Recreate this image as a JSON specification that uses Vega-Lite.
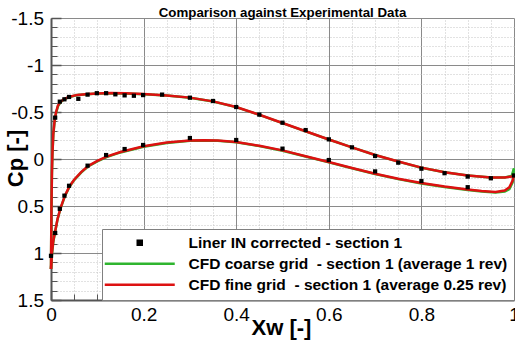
{
  "$schema": "https://vega.github.io/schema/vega-lite/v6.json",
  "width": 463,
  "height": 282,
  "autosize": {"type": "none"},
  "padding": {"left": 51, "top": 18, "right": 1, "bottom": 47},
  "background": "white",
  "config": {"font": "Liberation Sans", "view": {"stroke": null}},
  "title": {"text": "Comparison against Experimental Data", "fontSize": 13.3, "fontWeight": "bold", "font": "Liberation Sans", "color": "black", "anchor": "middle", "frame": "group", "baseline": "bottom", "offset": -24},
  "datasets": {
    "exp": [
      {"series": "Liner IN corrected - section 1", "x": 0.009, "cp": -0.44},
      {"series": "Liner IN corrected - section 1", "x": 0.019, "cp": -0.61},
      {"series": "Liner IN corrected - section 1", "x": 0.029, "cp": -0.635},
      {"series": "Liner IN corrected - section 1", "x": 0.039, "cp": -0.66},
      {"series": "Liner IN corrected - section 1", "x": 0.059, "cp": -0.64},
      {"series": "Liner IN corrected - section 1", "x": 0.079, "cp": -0.685},
      {"series": "Liner IN corrected - section 1", "x": 0.099, "cp": -0.7},
      {"series": "Liner IN corrected - section 1", "x": 0.119, "cp": -0.7},
      {"series": "Liner IN corrected - section 1", "x": 0.139, "cp": -0.688},
      {"series": "Liner IN corrected - section 1", "x": 0.159, "cp": -0.677},
      {"series": "Liner IN corrected - section 1", "x": 0.179, "cp": -0.673},
      {"series": "Liner IN corrected - section 1", "x": 0.199, "cp": -0.68},
      {"series": "Liner IN corrected - section 1", "x": 0.24, "cp": -0.685},
      {"series": "Liner IN corrected - section 1", "x": 0.3, "cp": -0.652},
      {"series": "Liner IN corrected - section 1", "x": 0.35, "cp": -0.617},
      {"series": "Liner IN corrected - section 1", "x": 0.4, "cp": -0.553},
      {"series": "Liner IN corrected - section 1", "x": 0.45, "cp": -0.472},
      {"series": "Liner IN corrected - section 1", "x": 0.5, "cp": -0.386},
      {"series": "Liner IN corrected - section 1", "x": 0.55, "cp": -0.308},
      {"series": "Liner IN corrected - section 1", "x": 0.6, "cp": -0.209},
      {"series": "Liner IN corrected - section 1", "x": 0.65, "cp": -0.124},
      {"series": "Liner IN corrected - section 1", "x": 0.7, "cp": -0.032},
      {"series": "Liner IN corrected - section 1", "x": 0.75, "cp": 0.039},
      {"series": "Liner IN corrected - section 1", "x": 0.8, "cp": 0.103},
      {"series": "Liner IN corrected - section 1", "x": 0.85, "cp": 0.151},
      {"series": "Liner IN corrected - section 1", "x": 0.9, "cp": 0.187},
      {"series": "Liner IN corrected - section 1", "x": 0.95, "cp": 0.205},
      {"series": "Liner IN corrected - section 1", "x": 1.0, "cp": 0.175},
      {"series": "Liner IN corrected - section 1", "x": 0.0, "cp": 1.03},
      {"series": "Liner IN corrected - section 1", "x": 0.009, "cp": 0.787},
      {"series": "Liner IN corrected - section 1", "x": 0.019, "cp": 0.53},
      {"series": "Liner IN corrected - section 1", "x": 0.029, "cp": 0.39},
      {"series": "Liner IN corrected - section 1", "x": 0.039, "cp": 0.285},
      {"series": "Liner IN corrected - section 1", "x": 0.079, "cp": 0.071},
      {"series": "Liner IN corrected - section 1", "x": 0.119, "cp": -0.042},
      {"series": "Liner IN corrected - section 1", "x": 0.159, "cp": -0.106},
      {"series": "Liner IN corrected - section 1", "x": 0.199, "cp": -0.149},
      {"series": "Liner IN corrected - section 1", "x": 0.3, "cp": -0.223},
      {"series": "Liner IN corrected - section 1", "x": 0.4, "cp": -0.202},
      {"series": "Liner IN corrected - section 1", "x": 0.5, "cp": -0.11},
      {"series": "Liner IN corrected - section 1", "x": 0.6, "cp": 0.011},
      {"series": "Liner IN corrected - section 1", "x": 0.7, "cp": 0.132},
      {"series": "Liner IN corrected - section 1", "x": 0.8, "cp": 0.234},
      {"series": "Liner IN corrected - section 1", "x": 0.9, "cp": 0.3}
    ],
    "coarse": [
      {"series": "CFD coarse grid\u00a0 - section 1 (average 1 rev)", "surface": "upper", "x": 0.0, "cp": 1.17},
      {"series": "CFD coarse grid\u00a0 - section 1 (average 1 rev)", "surface": "upper", "x": 0.001, "cp": 0.52},
      {"series": "CFD coarse grid\u00a0 - section 1 (average 1 rev)", "surface": "upper", "x": 0.002, "cp": 0.16},
      {"series": "CFD coarse grid\u00a0 - section 1 (average 1 rev)", "surface": "upper", "x": 0.003, "cp": -0.04},
      {"series": "CFD coarse grid\u00a0 - section 1 (average 1 rev)", "surface": "upper", "x": 0.005, "cp": -0.26},
      {"series": "CFD coarse grid\u00a0 - section 1 (average 1 rev)", "surface": "upper", "x": 0.008, "cp": -0.41},
      {"series": "CFD coarse grid\u00a0 - section 1 (average 1 rev)", "surface": "upper", "x": 0.011, "cp": -0.49},
      {"series": "CFD coarse grid\u00a0 - section 1 (average 1 rev)", "surface": "upper", "x": 0.015, "cp": -0.56},
      {"series": "CFD coarse grid\u00a0 - section 1 (average 1 rev)", "surface": "upper", "x": 0.02, "cp": -0.6},
      {"series": "CFD coarse grid\u00a0 - section 1 (average 1 rev)", "surface": "upper", "x": 0.028, "cp": -0.635},
      {"series": "CFD coarse grid\u00a0 - section 1 (average 1 rev)", "surface": "upper", "x": 0.04, "cp": -0.66},
      {"series": "CFD coarse grid\u00a0 - section 1 (average 1 rev)", "surface": "upper", "x": 0.057, "cp": -0.68},
      {"series": "CFD coarse grid\u00a0 - section 1 (average 1 rev)", "surface": "upper", "x": 0.08, "cp": -0.69},
      {"series": "CFD coarse grid\u00a0 - section 1 (average 1 rev)", "surface": "upper", "x": 0.1, "cp": -0.697},
      {"series": "CFD coarse grid\u00a0 - section 1 (average 1 rev)", "surface": "upper", "x": 0.13, "cp": -0.7},
      {"series": "CFD coarse grid\u00a0 - section 1 (average 1 rev)", "surface": "upper", "x": 0.16, "cp": -0.698},
      {"series": "CFD coarse grid\u00a0 - section 1 (average 1 rev)", "surface": "upper", "x": 0.2, "cp": -0.69},
      {"series": "CFD coarse grid\u00a0 - section 1 (average 1 rev)", "surface": "upper", "x": 0.25, "cp": -0.675},
      {"series": "CFD coarse grid\u00a0 - section 1 (average 1 rev)", "surface": "upper", "x": 0.3, "cp": -0.652},
      {"series": "CFD coarse grid\u00a0 - section 1 (average 1 rev)", "surface": "upper", "x": 0.35, "cp": -0.612},
      {"series": "CFD coarse grid\u00a0 - section 1 (average 1 rev)", "surface": "upper", "x": 0.4, "cp": -0.552},
      {"series": "CFD coarse grid\u00a0 - section 1 (average 1 rev)", "surface": "upper", "x": 0.45, "cp": -0.47},
      {"series": "CFD coarse grid\u00a0 - section 1 (average 1 rev)", "surface": "upper", "x": 0.5, "cp": -0.382},
      {"series": "CFD coarse grid\u00a0 - section 1 (average 1 rev)", "surface": "upper", "x": 0.55, "cp": -0.294},
      {"series": "CFD coarse grid\u00a0 - section 1 (average 1 rev)", "surface": "upper", "x": 0.6, "cp": -0.207},
      {"series": "CFD coarse grid\u00a0 - section 1 (average 1 rev)", "surface": "upper", "x": 0.65, "cp": -0.123},
      {"series": "CFD coarse grid\u00a0 - section 1 (average 1 rev)", "surface": "upper", "x": 0.7, "cp": -0.042},
      {"series": "CFD coarse grid\u00a0 - section 1 (average 1 rev)", "surface": "upper", "x": 0.75, "cp": 0.028},
      {"series": "CFD coarse grid\u00a0 - section 1 (average 1 rev)", "surface": "upper", "x": 0.8, "cp": 0.093},
      {"series": "CFD coarse grid\u00a0 - section 1 (average 1 rev)", "surface": "upper", "x": 0.85, "cp": 0.142},
      {"series": "CFD coarse grid\u00a0 - section 1 (average 1 rev)", "surface": "upper", "x": 0.9, "cp": 0.176},
      {"series": "CFD coarse grid\u00a0 - section 1 (average 1 rev)", "surface": "upper", "x": 0.95, "cp": 0.197},
      {"series": "CFD coarse grid\u00a0 - section 1 (average 1 rev)", "surface": "upper", "x": 0.98, "cp": 0.196},
      {"series": "CFD coarse grid\u00a0 - section 1 (average 1 rev)", "surface": "upper", "x": 0.995, "cp": 0.18},
      {"series": "CFD coarse grid\u00a0 - section 1 (average 1 rev)", "surface": "upper", "x": 1.0, "cp": 0.1},
      {"series": "CFD coarse grid\u00a0 - section 1 (average 1 rev)", "surface": "lower", "x": 0.0, "cp": 1.17},
      {"series": "CFD coarse grid\u00a0 - section 1 (average 1 rev)", "surface": "lower", "x": 0.002, "cp": 1.02},
      {"series": "CFD coarse grid\u00a0 - section 1 (average 1 rev)", "surface": "lower", "x": 0.005, "cp": 0.88},
      {"series": "CFD coarse grid\u00a0 - section 1 (average 1 rev)", "surface": "lower", "x": 0.009, "cp": 0.775},
      {"series": "CFD coarse grid\u00a0 - section 1 (average 1 rev)", "surface": "lower", "x": 0.014, "cp": 0.645},
      {"series": "CFD coarse grid\u00a0 - section 1 (average 1 rev)", "surface": "lower", "x": 0.02, "cp": 0.535},
      {"series": "CFD coarse grid\u00a0 - section 1 (average 1 rev)", "surface": "lower", "x": 0.03, "cp": 0.395},
      {"series": "CFD coarse grid\u00a0 - section 1 (average 1 rev)", "surface": "lower", "x": 0.04, "cp": 0.295},
      {"series": "CFD coarse grid\u00a0 - section 1 (average 1 rev)", "surface": "lower", "x": 0.05, "cp": 0.225},
      {"series": "CFD coarse grid\u00a0 - section 1 (average 1 rev)", "surface": "lower", "x": 0.065, "cp": 0.145},
      {"series": "CFD coarse grid\u00a0 - section 1 (average 1 rev)", "surface": "lower", "x": 0.08, "cp": 0.08},
      {"series": "CFD coarse grid\u00a0 - section 1 (average 1 rev)", "surface": "lower", "x": 0.1, "cp": 0.025},
      {"series": "CFD coarse grid\u00a0 - section 1 (average 1 rev)", "surface": "lower", "x": 0.12, "cp": -0.02},
      {"series": "CFD coarse grid\u00a0 - section 1 (average 1 rev)", "surface": "lower", "x": 0.15, "cp": -0.07},
      {"series": "CFD coarse grid\u00a0 - section 1 (average 1 rev)", "surface": "lower", "x": 0.2, "cp": -0.13},
      {"series": "CFD coarse grid\u00a0 - section 1 (average 1 rev)", "surface": "lower", "x": 0.25, "cp": -0.171},
      {"series": "CFD coarse grid\u00a0 - section 1 (average 1 rev)", "surface": "lower", "x": 0.3, "cp": -0.193},
      {"series": "CFD coarse grid\u00a0 - section 1 (average 1 rev)", "surface": "lower", "x": 0.33, "cp": -0.197},
      {"series": "CFD coarse grid\u00a0 - section 1 (average 1 rev)", "surface": "lower", "x": 0.36, "cp": -0.194},
      {"series": "CFD coarse grid\u00a0 - section 1 (average 1 rev)", "surface": "lower", "x": 0.4, "cp": -0.177},
      {"series": "CFD coarse grid\u00a0 - section 1 (average 1 rev)", "surface": "lower", "x": 0.45, "cp": -0.137},
      {"series": "CFD coarse grid\u00a0 - section 1 (average 1 rev)", "surface": "lower", "x": 0.5, "cp": -0.088},
      {"series": "CFD coarse grid\u00a0 - section 1 (average 1 rev)", "surface": "lower", "x": 0.55, "cp": -0.026},
      {"series": "CFD coarse grid\u00a0 - section 1 (average 1 rev)", "surface": "lower", "x": 0.6, "cp": 0.036},
      {"series": "CFD coarse grid\u00a0 - section 1 (average 1 rev)", "surface": "lower", "x": 0.65, "cp": 0.099},
      {"series": "CFD coarse grid\u00a0 - section 1 (average 1 rev)", "surface": "lower", "x": 0.7, "cp": 0.16},
      {"series": "CFD coarse grid\u00a0 - section 1 (average 1 rev)", "surface": "lower", "x": 0.75, "cp": 0.214},
      {"series": "CFD coarse grid\u00a0 - section 1 (average 1 rev)", "surface": "lower", "x": 0.8, "cp": 0.26},
      {"series": "CFD coarse grid\u00a0 - section 1 (average 1 rev)", "surface": "lower", "x": 0.85, "cp": 0.298},
      {"series": "CFD coarse grid\u00a0 - section 1 (average 1 rev)", "surface": "lower", "x": 0.9, "cp": 0.33},
      {"series": "CFD coarse grid\u00a0 - section 1 (average 1 rev)", "surface": "lower", "x": 0.93, "cp": 0.346},
      {"series": "CFD coarse grid\u00a0 - section 1 (average 1 rev)", "surface": "lower", "x": 0.96, "cp": 0.357},
      {"series": "CFD coarse grid\u00a0 - section 1 (average 1 rev)", "surface": "lower", "x": 0.98, "cp": 0.347},
      {"series": "CFD coarse grid\u00a0 - section 1 (average 1 rev)", "surface": "lower", "x": 0.99, "cp": 0.32},
      {"series": "CFD coarse grid\u00a0 - section 1 (average 1 rev)", "surface": "lower", "x": 0.997, "cp": 0.25},
      {"series": "CFD coarse grid\u00a0 - section 1 (average 1 rev)", "surface": "lower", "x": 1.0, "cp": 0.1}
    ],
    "fine": [
      {"series": "CFD fine grid\u00a0 - section 1 (average 0.25 rev)", "surface": "upper", "x": 0.0, "cp": 1.17},
      {"series": "CFD fine grid\u00a0 - section 1 (average 0.25 rev)", "surface": "upper", "x": 0.001, "cp": 0.5},
      {"series": "CFD fine grid\u00a0 - section 1 (average 0.25 rev)", "surface": "upper", "x": 0.002, "cp": 0.15},
      {"series": "CFD fine grid\u00a0 - section 1 (average 0.25 rev)", "surface": "upper", "x": 0.003, "cp": -0.05},
      {"series": "CFD fine grid\u00a0 - section 1 (average 0.25 rev)", "surface": "upper", "x": 0.005, "cp": -0.27},
      {"series": "CFD fine grid\u00a0 - section 1 (average 0.25 rev)", "surface": "upper", "x": 0.008, "cp": -0.42},
      {"series": "CFD fine grid\u00a0 - section 1 (average 0.25 rev)", "surface": "upper", "x": 0.011, "cp": -0.5},
      {"series": "CFD fine grid\u00a0 - section 1 (average 0.25 rev)", "surface": "upper", "x": 0.015, "cp": -0.57},
      {"series": "CFD fine grid\u00a0 - section 1 (average 0.25 rev)", "surface": "upper", "x": 0.02, "cp": -0.605},
      {"series": "CFD fine grid\u00a0 - section 1 (average 0.25 rev)", "surface": "upper", "x": 0.028, "cp": -0.638},
      {"series": "CFD fine grid\u00a0 - section 1 (average 0.25 rev)", "surface": "upper", "x": 0.04, "cp": -0.662},
      {"series": "CFD fine grid\u00a0 - section 1 (average 0.25 rev)", "surface": "upper", "x": 0.057, "cp": -0.682},
      {"series": "CFD fine grid\u00a0 - section 1 (average 0.25 rev)", "surface": "upper", "x": 0.08, "cp": -0.692},
      {"series": "CFD fine grid\u00a0 - section 1 (average 0.25 rev)", "surface": "upper", "x": 0.1, "cp": -0.698},
      {"series": "CFD fine grid\u00a0 - section 1 (average 0.25 rev)", "surface": "upper", "x": 0.13, "cp": -0.701},
      {"series": "CFD fine grid\u00a0 - section 1 (average 0.25 rev)", "surface": "upper", "x": 0.16, "cp": -0.699},
      {"series": "CFD fine grid\u00a0 - section 1 (average 0.25 rev)", "surface": "upper", "x": 0.2, "cp": -0.691},
      {"series": "CFD fine grid\u00a0 - section 1 (average 0.25 rev)", "surface": "upper", "x": 0.25, "cp": -0.676},
      {"series": "CFD fine grid\u00a0 - section 1 (average 0.25 rev)", "surface": "upper", "x": 0.3, "cp": -0.653},
      {"series": "CFD fine grid\u00a0 - section 1 (average 0.25 rev)", "surface": "upper", "x": 0.35, "cp": -0.613},
      {"series": "CFD fine grid\u00a0 - section 1 (average 0.25 rev)", "surface": "upper", "x": 0.4, "cp": -0.553},
      {"series": "CFD fine grid\u00a0 - section 1 (average 0.25 rev)", "surface": "upper", "x": 0.45, "cp": -0.471},
      {"series": "CFD fine grid\u00a0 - section 1 (average 0.25 rev)", "surface": "upper", "x": 0.5, "cp": -0.383},
      {"series": "CFD fine grid\u00a0 - section 1 (average 0.25 rev)", "surface": "upper", "x": 0.55, "cp": -0.295},
      {"series": "CFD fine grid\u00a0 - section 1 (average 0.25 rev)", "surface": "upper", "x": 0.6, "cp": -0.208},
      {"series": "CFD fine grid\u00a0 - section 1 (average 0.25 rev)", "surface": "upper", "x": 0.65, "cp": -0.124},
      {"series": "CFD fine grid\u00a0 - section 1 (average 0.25 rev)", "surface": "upper", "x": 0.7, "cp": -0.043},
      {"series": "CFD fine grid\u00a0 - section 1 (average 0.25 rev)", "surface": "upper", "x": 0.75, "cp": 0.027},
      {"series": "CFD fine grid\u00a0 - section 1 (average 0.25 rev)", "surface": "upper", "x": 0.8, "cp": 0.092},
      {"series": "CFD fine grid\u00a0 - section 1 (average 0.25 rev)", "surface": "upper", "x": 0.85, "cp": 0.141},
      {"series": "CFD fine grid\u00a0 - section 1 (average 0.25 rev)", "surface": "upper", "x": 0.9, "cp": 0.175},
      {"series": "CFD fine grid\u00a0 - section 1 (average 0.25 rev)", "surface": "upper", "x": 0.95, "cp": 0.196},
      {"series": "CFD fine grid\u00a0 - section 1 (average 0.25 rev)", "surface": "upper", "x": 0.98, "cp": 0.196},
      {"series": "CFD fine grid\u00a0 - section 1 (average 0.25 rev)", "surface": "upper", "x": 0.995, "cp": 0.186},
      {"series": "CFD fine grid\u00a0 - section 1 (average 0.25 rev)", "surface": "upper", "x": 1.0, "cp": 0.17},
      {"series": "CFD fine grid\u00a0 - section 1 (average 0.25 rev)", "surface": "lower", "x": 0.0, "cp": 1.17},
      {"series": "CFD fine grid\u00a0 - section 1 (average 0.25 rev)", "surface": "lower", "x": 0.002, "cp": 1.0},
      {"series": "CFD fine grid\u00a0 - section 1 (average 0.25 rev)", "surface": "lower", "x": 0.005, "cp": 0.87},
      {"series": "CFD fine grid\u00a0 - section 1 (average 0.25 rev)", "surface": "lower", "x": 0.009, "cp": 0.77},
      {"series": "CFD fine grid\u00a0 - section 1 (average 0.25 rev)", "surface": "lower", "x": 0.014, "cp": 0.64},
      {"series": "CFD fine grid\u00a0 - section 1 (average 0.25 rev)", "surface": "lower", "x": 0.02, "cp": 0.53},
      {"series": "CFD fine grid\u00a0 - section 1 (average 0.25 rev)", "surface": "lower", "x": 0.03, "cp": 0.39},
      {"series": "CFD fine grid\u00a0 - section 1 (average 0.25 rev)", "surface": "lower", "x": 0.04, "cp": 0.29},
      {"series": "CFD fine grid\u00a0 - section 1 (average 0.25 rev)", "surface": "lower", "x": 0.05, "cp": 0.22},
      {"series": "CFD fine grid\u00a0 - section 1 (average 0.25 rev)", "surface": "lower", "x": 0.065, "cp": 0.14},
      {"series": "CFD fine grid\u00a0 - section 1 (average 0.25 rev)", "surface": "lower", "x": 0.08, "cp": 0.075},
      {"series": "CFD fine grid\u00a0 - section 1 (average 0.25 rev)", "surface": "lower", "x": 0.1, "cp": 0.02},
      {"series": "CFD fine grid\u00a0 - section 1 (average 0.25 rev)", "surface": "lower", "x": 0.12, "cp": -0.025},
      {"series": "CFD fine grid\u00a0 - section 1 (average 0.25 rev)", "surface": "lower", "x": 0.15, "cp": -0.075},
      {"series": "CFD fine grid\u00a0 - section 1 (average 0.25 rev)", "surface": "lower", "x": 0.2, "cp": -0.135},
      {"series": "CFD fine grid\u00a0 - section 1 (average 0.25 rev)", "surface": "lower", "x": 0.25, "cp": -0.175},
      {"series": "CFD fine grid\u00a0 - section 1 (average 0.25 rev)", "surface": "lower", "x": 0.3, "cp": -0.196},
      {"series": "CFD fine grid\u00a0 - section 1 (average 0.25 rev)", "surface": "lower", "x": 0.33, "cp": -0.2},
      {"series": "CFD fine grid\u00a0 - section 1 (average 0.25 rev)", "surface": "lower", "x": 0.36, "cp": -0.197},
      {"series": "CFD fine grid\u00a0 - section 1 (average 0.25 rev)", "surface": "lower", "x": 0.4, "cp": -0.18},
      {"series": "CFD fine grid\u00a0 - section 1 (average 0.25 rev)", "surface": "lower", "x": 0.45, "cp": -0.14},
      {"series": "CFD fine grid\u00a0 - section 1 (average 0.25 rev)", "surface": "lower", "x": 0.5, "cp": -0.092},
      {"series": "CFD fine grid\u00a0 - section 1 (average 0.25 rev)", "surface": "lower", "x": 0.55, "cp": -0.03},
      {"series": "CFD fine grid\u00a0 - section 1 (average 0.25 rev)", "surface": "lower", "x": 0.6, "cp": 0.032},
      {"series": "CFD fine grid\u00a0 - section 1 (average 0.25 rev)", "surface": "lower", "x": 0.65, "cp": 0.095},
      {"series": "CFD fine grid\u00a0 - section 1 (average 0.25 rev)", "surface": "lower", "x": 0.7, "cp": 0.156},
      {"series": "CFD fine grid\u00a0 - section 1 (average 0.25 rev)", "surface": "lower", "x": 0.75, "cp": 0.21},
      {"series": "CFD fine grid\u00a0 - section 1 (average 0.25 rev)", "surface": "lower", "x": 0.8, "cp": 0.255},
      {"series": "CFD fine grid\u00a0 - section 1 (average 0.25 rev)", "surface": "lower", "x": 0.85, "cp": 0.293},
      {"series": "CFD fine grid\u00a0 - section 1 (average 0.25 rev)", "surface": "lower", "x": 0.9, "cp": 0.325},
      {"series": "CFD fine grid\u00a0 - section 1 (average 0.25 rev)", "surface": "lower", "x": 0.93, "cp": 0.34},
      {"series": "CFD fine grid\u00a0 - section 1 (average 0.25 rev)", "surface": "lower", "x": 0.96, "cp": 0.35},
      {"series": "CFD fine grid\u00a0 - section 1 (average 0.25 rev)", "surface": "lower", "x": 0.98, "cp": 0.335},
      {"series": "CFD fine grid\u00a0 - section 1 (average 0.25 rev)", "surface": "lower", "x": 0.99, "cp": 0.3},
      {"series": "CFD fine grid\u00a0 - section 1 (average 0.25 rev)", "surface": "lower", "x": 0.997, "cp": 0.23},
      {"series": "CFD fine grid\u00a0 - section 1 (average 0.25 rev)", "surface": "lower", "x": 1.0, "cp": 0.17}
    ]
  },
  "layer": [
    {
      "data": {"name": "coarse"},
      "mark": {"type": "line", "strokeWidth": 2.5},
      "encoding": {
        "x": {"field": "x", "type": "quantitative", "scale": {"domain": [0, 1], "nice": false, "zero": false},
          "axis": {"orient": "bottom", "values": [0.05, 0.1, 0.15, 0.25, 0.3, 0.35, 0.45, 0.5, 0.55, 0.65, 0.7, 0.75, 0.85, 0.9, 0.95],
            "grid": true, "gridColor": "#c4c4c4", "gridDash": [1, 2], "gridWidth": 1, "labels": false, "title": null, "domain": false,
            "ticks": true, "tickSize": -6, "tickColor": "#555555", "tickWidth": 1}},
        "y": {"field": "cp", "type": "quantitative", "scale": {"domain": [-1.5, 1.5], "reverse": true, "nice": false, "zero": false},
          "axis": {"orient": "left", "values": [-1.4, -1.3, -1.2, -1.1, -0.9, -0.8, -0.7, -0.6, -0.4, -0.3, -0.2, -0.1, 0.1, 0.2, 0.3, 0.4, 0.6, 0.7, 0.8, 0.9, 1.1, 1.2, 1.3, 1.4],
            "grid": true, "gridColor": "#c4c4c4", "gridDash": [1, 2], "gridWidth": 1, "labels": false, "title": null, "domain": false,
            "ticks": true, "tickSize": -6, "tickColor": "#555555", "tickWidth": 1}},
        "color": {"field": "series", "type": "nominal",
          "scale": {"domain": ["Liner IN corrected - section 1", "CFD coarse grid\u00a0 - section 1 (average 1 rev)", "CFD fine grid\u00a0 - section 1 (average 0.25 rev)"], "range": ["#000000", "#2fb52f", "#dd1111"]},
          "legend": {"title": null, "orient": "none", "legendX": 51, "legendY": 211, "fillColor": "white", "strokeColor": "#808080",
            "padding": 6, "symbolSize": 16, "symbolOffset": 24, "labelOffset": 41, "rowPadding": 4,
            "labelFont": "Liberation Sans", "labelFontSize": 15.5, "labelFontWeight": "bold", "labelColor": "black", "labelLimit": 420,
            "symbolStrokeWidth": 2.5,
            "encode": {"symbols": {"update": {
              "shape": {"signal": "datum.value === 'Liner IN corrected - section 1' ? 'square' : 'M-17.5,0H17.5'"},
              "size": {"value": 16},
              "fill": {"signal": "datum.value === 'Liner IN corrected - section 1' ? '#000000' : 'transparent'"},
              "stroke": {"signal": "datum.value === 'Liner IN corrected - section 1' ? 'transparent' : scale('color', datum.value)"},
              "strokeWidth": {"value": 2.5},
              "opacity": {"value": 1}}}}}},
        "detail": {"field": "surface"}
      }
    },
    {
      "data": {"name": "fine"},
      "mark": {"type": "line", "strokeWidth": 2.5},
      "encoding": {
        "x": {"field": "x", "type": "quantitative",
          "axis": {"orient": "bottom", "values": [0, 0.2, 0.4, 0.6, 0.8, 1], "grid": true, "gridColor": "#8a8a8a", "gridWidth": 1,
            "domain": true, "domainColor": "#555555", "domainWidth": 2, "ticks": true, "tickSize": -10, "tickColor": "#555555", "tickWidth": 1.5,
            "labelFont": "Liberation Sans", "labelFontSize": 19, "labelColor": "black", "labelFlush": false, "labelOverlap": false, "labelPadding": 15,
            "labelExpr": "'' + datum.value",
            "title": "Xw [-]", "titleFont": "Liberation Sans", "titleFontSize": 22, "titleFontWeight": "bold", "titleColor": "black",
            "titleX": 230, "titleY": 34, "titleBaseline": "alphabetic", "titleAlign": "center"}},
        "y": {"field": "cp", "type": "quantitative",
          "axis": {"orient": "left", "values": [-1.5, -1, -0.5, 0, 0.5, 1, 1.5], "grid": true, "gridColor": "#8a8a8a", "gridWidth": 1,
            "domain": true, "domainColor": "#555555", "domainWidth": 2, "ticks": true, "tickSize": -10, "tickColor": "#555555", "tickWidth": 1.5,
            "labelFont": "Liberation Sans", "labelFontSize": 19, "labelColor": "black", "labelFlush": false, "labelOverlap": false, "labelPadding": 17.5,
            "labelExpr": "'' + datum.value",
            "title": "Cp [-]", "titleFont": "Liberation Sans", "titleFontSize": 22, "titleFontWeight": "bold", "titleColor": "black",
            "titleX": -29, "titleY": 140, "titleAngle": -90, "titleBaseline": "alphabetic", "titleAlign": "center"}},
        "color": {"field": "series", "type": "nominal"},
        "detail": {"field": "surface"}
      }
    },
    {
      "data": {"name": "exp"},
      "mark": {"type": "square", "size": 18, "filled": true, "opacity": 1},
      "encoding": {
        "x": {"field": "x", "type": "quantitative", "axis": null},
        "y": {"field": "cp", "type": "quantitative", "axis": null},
        "color": {"field": "series", "type": "nominal"}
      }
    }
  ],
  "resolve": {"axis": {"x": "independent", "y": "independent"}}
}
